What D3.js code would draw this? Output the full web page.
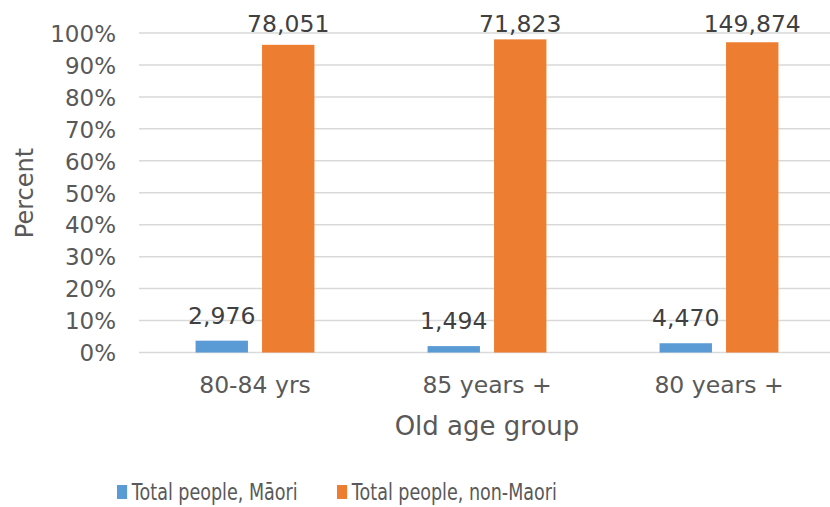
<!DOCTYPE html>
<html>
<head>
<meta charset="utf-8">
<script src="https://cdn.jsdelivr.net/npm/d3@7"></script>
<style>
  body { margin: 0; background: #fff; }
  svg { display: block; font-family: "DejaVu Sans", Verdana, sans-serif; }
</style>
</head>
<body>
<svg id="chart" width="830" height="507"></svg>
<script>
const categories = ["80-84 yrs", "85 years +", "80 years +"];
const seriesNames = ["Total people, Māori", "Total people, non-Maori"];
const maoriPct = [3.7, 2.0, 2.9];
const nonMaoriPct = [96.3, 98.0, 97.1];
const maoriCount = ["2,976", "1,494", "4,470"];
const nonMaoriCount = ["78,051", "71,823", "149,874"];
const yTicks = [0, 10, 20, 30, 40, 50, 60, 70, 80, 90, 100];
const colors = ["#5b9bd5", "#ed7d31"];

const svg = d3.select("#chart");
const textColor = "#595959";

const plotLeft = 139, plotRight = 835, plotTop = 33, plotBottom = 352.5;

const x0 = d3.scaleBand().domain(categories).range([plotLeft, plotRight]).paddingInner(0).paddingOuter(0);
const x1 = d3.scaleBand().domain(seriesNames).range([0, x0.bandwidth()]).paddingInner(0.212).paddingOuter(0.851);
const y = d3.scaleLinear().domain([0, 100]).range([plotBottom, plotTop]);

// gridlines
svg.append("g").selectAll("line").data(yTicks).join("line")
  .attr("x1", plotLeft).attr("x2", 830)
  .attr("y1", d => y(d)).attr("y2", d => y(d))
  .attr("stroke", "#d9d9d9").attr("stroke-width", 1.5);

// y tick labels
const yAxis = d3.axisLeft(y).tickValues(yTicks).tickFormat(d => d + "%").tickSize(0).tickPadding(0);
const ya = svg.append("g").attr("transform", `translate(116,0)`).call(yAxis);
ya.select(".domain").remove();
ya.selectAll("text").attr("font-size", 23).attr("fill", textColor)
  .attr("font-family", "DejaVu Sans").attr("dy", "0.36em");

// x category labels
const xAxis = d3.axisBottom(x0).tickSize(0).tickPadding(0);
const xa = svg.append("g").attr("transform", `translate(0,393)`).call(xAxis);
xa.select(".domain").remove();
xa.selectAll("text").attr("font-size", 23.5).attr("fill", textColor)
  .attr("font-family", "DejaVu Sans").attr("dy", "0");

const rows = categories.map((c, i) => ({
  cat: c,
  vals: [
    { s: seriesNames[0], v: maoriPct[i], lab: maoriCount[i], col: colors[0] },
    { s: seriesNames[1], v: nonMaoriPct[i], lab: nonMaoriCount[i], col: colors[1] }
  ]
}));

const g = svg.append("g").selectAll("g").data(rows).join("g")
  .attr("transform", d => `translate(${x0(d.cat)},0)`);

g.selectAll("rect").data(d => d.vals).join("rect")
  .attr("x", d => x1(d.s)).attr("width", x1.bandwidth())
  .attr("y", d => y(d.v)).attr("height", d => y(0) - y(d.v))
  .attr("fill", d => d.col);

g.selectAll("text").data(d => d.vals).join("text")
  .attr("x", d => x1(d.s) + x1.bandwidth() / 2)
  .attr("y", d => Math.max(y(d.v) - 17, 32))
  .attr("text-anchor", "middle")
  .attr("font-size", 23.5).attr("fill", "#404040")
  .text(d => d.lab);

// axis titles
svg.append("text")
  .attr("transform", `translate(33,193) rotate(-90)`)
  .attr("text-anchor", "middle").attr("font-size", 24).attr("fill", textColor)
  .text("Percent");

svg.append("text")
  .attr("x", 487).attr("y", 435)
  .attr("text-anchor", "middle").attr("font-size", 26).attr("fill", textColor)
  .text("Old age group");

// legend (horizontally condensed)
const legendX = [117, 337];
const lg = svg.append("g");
seriesNames.forEach((s, i) => {
  const item = lg.append("g").attr("transform", `translate(${legendX[i]},0) scale(0.78,1)`);
  item.append("rect").attr("x", 0).attr("y", 485).attr("width", 13).attr("height", 14).attr("fill", colors[i]);
  item.append("text").attr("x", 19).attr("y", 500).attr("font-size", 22.5).attr("fill", textColor).text(s);
});
</script>
</body>
</html>
